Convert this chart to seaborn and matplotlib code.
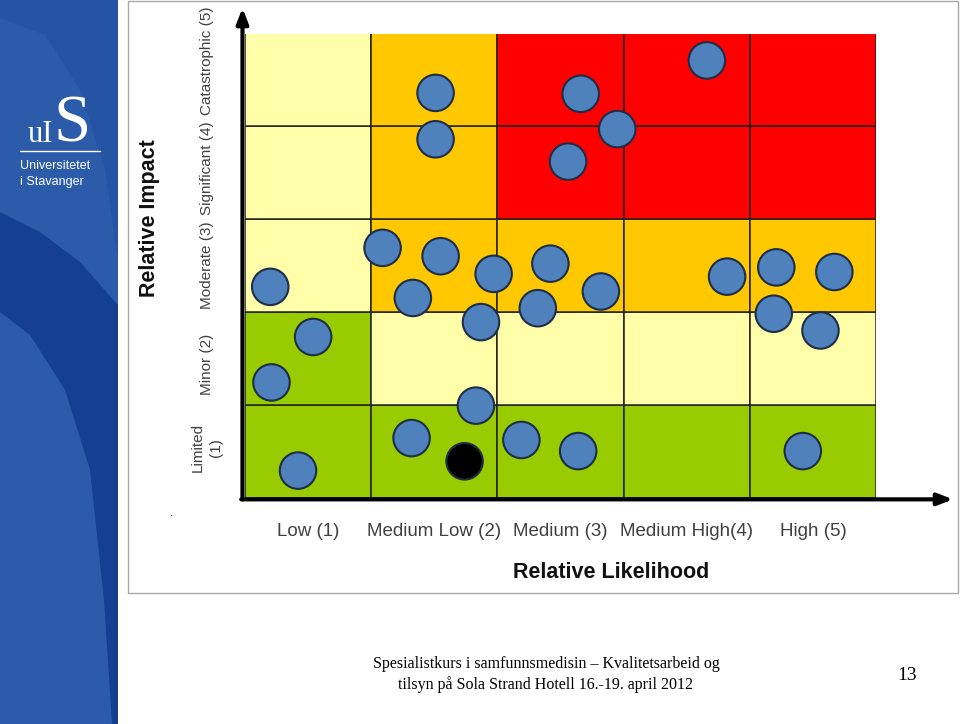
import numpy as np
import pandas as pd
import matplotlib
matplotlib.use("Agg")
import matplotlib.pyplot as plt
from matplotlib.patches import Rectangle, Polygon
from matplotlib.transforms import ScaledTranslation
import seaborn as sns

# ---------------- data ----------------
likelihood_labels = ["Low (1)", "Medium Low (2)", "Medium (3)", "Medium High(4)", "High (5)"]
impact_labels = ["Limited\n(1)", "Minor (2)", "Moderate (3)", "Significant (4)", "Catastrophic (5)"]

# zone per cell, rows = impact 1..5, cols = likelihood 1..5
# 0 = green, 1 = light yellow, 2 = orange, 3 = red
zones = [
    [0, 0, 0, 0, 0],
    [0, 1, 1, 1, 1],
    [1, 2, 2, 2, 2],
    [1, 2, 3, 3, 3],
    [1, 2, 3, 3, 3],
]
zone_colors = ["#99CC00", "#FFFFAA", "#FFC800", "#FF0000"]

risk_likelihood = [0.70, 1.04, 0.71, 0.92, 2.01, 2.01, 3.16, 3.45, 3.06, 4.16,
                   1.59, 2.05, 2.47, 2.92, 1.83, 2.82, 3.32, 2.37, 2.33, 1.82,
                   2.69, 3.14, 4.32, 4.71, 5.17, 4.69, 5.06, 4.92]
risk_impact = [2.77, 2.23, 1.74, 0.79, 4.86, 4.36, 4.85, 4.47, 4.12, 5.21,
               3.19, 3.10, 2.91, 3.02, 2.65, 2.54, 2.72, 2.39, 1.49, 1.14,
               1.12, 1.00, 2.88, 2.98, 2.93, 2.48, 2.30, 1.00]
event_likelihood = [2.24]
event_impact = [0.89]

footer_line1 = "Spesialistkurs i samfunnsmedisin \u2013 Kvalitetsarbeid og"
footer_line2 = "tilsyn p\u00e5 Sola Strand Hotell 16.-19. april 2012"
page_number = "13"

df = pd.DataFrame({
    "likelihood": risk_likelihood + event_likelihood,
    "impact": risk_impact + event_impact,
    "kind": ["risk"] * len(risk_likelihood) + ["event"] * len(event_likelihood),
})

# ---------------- figure ----------------
W, H = 960, 724
fig = plt.figure(figsize=(W / 100, H / 100), dpi=100)
fig.patch.set_facecolor("white")
sns.set_style("white")
plt.rcParams["font.family"] = ["Liberation Sans", "DejaVu Sans"]

def fx(px):
    return px / W

def fy(py):
    return 1 - py / H

# ---- sidebar ----
side = fig.add_axes([0, 0, 118 / W, 1])
side.set_xlim(0, 118)
side.set_ylim(724, 0)
side.axis("off")
side.add_patch(Rectangle((0, 0), 118, 724, facecolor="#2C5CA9", edgecolor="none"))
side.add_patch(Polygon([(0, 0), (118, 0), (118, 260), (105, 170), (80, 90), (45, 35), (0, 18)],
                       closed=True, facecolor="#2454A3", edgecolor="none"))
side.add_patch(Polygon([(0, 212), (40, 232), (80, 262), (118, 305), (118, 724), (112, 724),
                        (104, 600), (90, 470), (65, 390), (30, 335), (0, 312)],
                       closed=True, facecolor="#153F90", edgecolor="none"))
side.plot([20, 100], [151, 151], color="white", lw=1)
side.text(53, 141, "S", color="white", fontsize=48, family="Liberation Serif",
          ha="left", va="baseline")
side.text(53, 142, "uI", color="white", fontsize=22, family="Liberation Serif",
          ha="right", va="baseline")
side.text(20, 169, "Universitetet", color="white", fontsize=9, ha="left", va="baseline")
side.text(20, 185, "i Stavanger", color="white", fontsize=9, ha="left", va="baseline")

# ---- image frame ----
frame = fig.add_axes([0, 0, 1, 1], zorder=-1)
frame.set_xlim(0, W)
frame.set_ylim(H, 0)
frame.axis("off")
frame.add_patch(Rectangle((128, 1), 830, 592, facecolor="white", edgecolor="#A8A8A8", lw=1))

# ---- main matrix ----
x0, x1, y0, y1 = 245, 876, 33.5, 497.5
ax = fig.add_axes([fx(x0), fy(y1), (x1 - x0) / W, (y1 - y0) / H])
ax.set_xlim(0.5, 5.5)
ax.set_ylim(0.5, 5.5)
for i, row in enumerate(zones):
    for j, z in enumerate(row):
        ax.add_patch(Rectangle((j + 0.5, i + 0.5), 1, 1, facecolor=zone_colors[z],
                               edgecolor="#202020", lw=1.1, zorder=1))

sns.scatterplot(data=df, x="likelihood", y="impact", hue="kind",
                palette={"risk": "#4F81BD", "event": "#000000"},
                s=690, edgecolor="#1E2E48", linewidth=1.5, legend=False,
                zorder=3, clip_on=False, ax=ax)

for sp in ax.spines.values():
    sp.set_visible(False)

ax.set_xticks(range(1, 6))
ax.set_xticklabels(likelihood_labels, fontsize=13.5, color="#404040")
# impact labels in the source image sit slightly off the row centres
ax.set_yticks([1.04, 1.93, 3.0, 4.05, 5.21])
ax.set_yticklabels(impact_labels, fontsize=11, color="#404040", rotation=90,
                   va="center", ha="right", multialignment="center", linespacing=1.45)
ax.tick_params(axis="x", length=0, pad=18)
ax.tick_params(axis="y", length=0, pad=22)
first = ax.get_yticklabels()[0]
first.set_transform(first.get_transform() + ScaledTranslation(0.09, 0, fig.dpi_scale_trans))
ax.set_xlabel("")
ax.set_ylabel("")

# axis arrows
ax.annotate("", xy=(-0.004, (y1 - 8) / (y1 - y0)), xytext=(-0.004, -0.004),
            xycoords="axes fraction", textcoords="axes fraction",
            arrowprops=dict(arrowstyle="-|>,head_length=0.9,head_width=0.35",
                            color="black", lw=3, shrinkA=0, shrinkB=0), zorder=5)
ax.annotate("", xy=((953 - x0) / (x1 - x0), -0.004), xytext=(-0.006, -0.004),
            xycoords="axes fraction", textcoords="axes fraction",
            arrowprops=dict(arrowstyle="-|>,head_length=0.9,head_width=0.35",
                            color="black", lw=3, shrinkA=0, shrinkB=0), zorder=5)

# axis titles
fig.text(fx(611), fy(573), "Relative Likelihood", fontsize=15.5, fontweight="bold",
         color="#111111", ha="center", va="center")
fig.text(fx(150), fy(218), "Relative Impact", fontsize=15.5, fontweight="bold",
         color="#111111", ha="center", va="center", rotation=90)
fig.text(fx(172), fy(513), ".", fontsize=9, color="#333333", ha="center", va="center")

# ---- footer ----
fig.text(fx(546), fy(664), footer_line1, fontsize=11.5, family="Liberation Serif",
         ha="center", va="center", color="black")
fig.text(fx(546), fy(685), footer_line2, fontsize=11.5, family="Liberation Serif",
         ha="center", va="center", color="black")
fig.text(fx(907), fy(676), page_number, fontsize=14, family="Liberation Serif",
         ha="center", va="center", color="black")

fig.savefig("out.png", dpi=100)
